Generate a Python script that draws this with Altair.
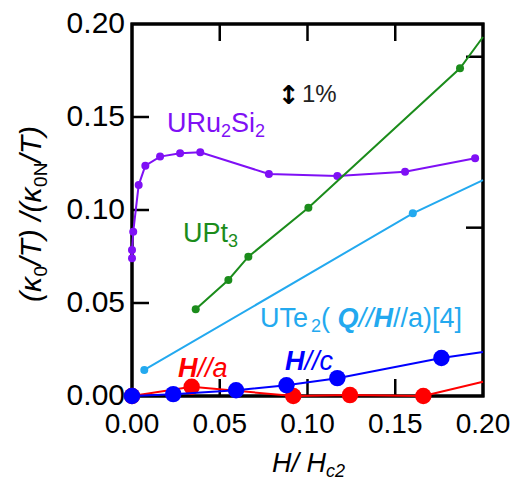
import altair as alt
import pandas as pd

FONT = "Liberation Sans"

# --- series values (H/Hc2, normalised residual kappa0/T) ---
uru_x = [0.0, 0.0, 0.0007, 0.0038, 0.0076, 0.016, 0.0274, 0.0389, 0.078, 0.117, 0.1556, 0.1955]
uru_y = [0.0740, 0.0785, 0.0883, 0.1134, 0.1238, 0.1287, 0.1305, 0.1310, 0.1194, 0.1183, 0.1206, 0.1278]

upt_x = [0.0363, 0.0549, 0.0663, 0.1005, 0.1869]
upt_y = [0.0466, 0.0624, 0.0749, 0.1012, 0.1762]
upt_end = (0.20, 0.193)

ute_ref_x = [0.007, 0.160]
ute_ref_y = [0.0140, 0.0982]
ute_ref_end = (0.20, 0.1161)

ha_x = [0.0, 0.034, 0.0919, 0.1242, 0.1660]
ha_y = [0.0, 0.0050, 0.0, 0.0005, 0.0]
ha_end = (0.20, 0.0077)

hc_x = [0.0, 0.0235, 0.0593, 0.0880, 0.1170, 0.1763]
hc_y = [0.0, 0.0010, 0.0031, 0.0058, 0.0096, 0.0204]
hc_end = (0.20, 0.0236)

x_ticks = [0.0, 0.05, 0.10, 0.15, 0.20]
y_ticks = [0.0, 0.05, 0.10, 0.15, 0.20]
inner_x_ticks = [0.05, 0.10, 0.15]
inner_y_ticks = [0.05, 0.10, 0.15]
right_ticks = [0.0905, 0.1824]
X_RANGE = [0.0, 0.2]
Y_RANGE = [0.0, 0.2]

W, H = 351, 372
TICK = 17


def frame(xs, ys, end=None):
    rows = [{"x": a, "y": b, "i": k, "marker": True} for k, (a, b) in enumerate(zip(xs, ys))]
    if end is not None:
        rows.append({"x": end[0], "y": end[1], "i": len(rows), "marker": False})
    return pd.DataFrame(rows)


xscale = alt.Scale(domain=X_RANGE, nice=False, zero=False)
yscale = alt.Scale(domain=Y_RANGE, nice=False, zero=False)


def X(field):
    return alt.X(f"{field}:Q", scale=xscale, axis=None)


def Y(field):
    return alt.Y(f"{field}:Q", scale=yscale, axis=None)


def series(df, color, size):
    line = alt.Chart(df).mark_line(color=color, strokeWidth=2).encode(
        x=X("x"), y=Y("y"), order="i:O")
    pts = alt.Chart(df).transform_filter("datum.marker").mark_circle(
        color=color, size=size, opacity=1).encode(x=X("x"), y=Y("y"))
    return [line, pts]


anchor = pd.DataFrame({"k": [0]})
x0, x1 = X_RANGE
y0, y1 = Y_RANGE

# plot box, positioned through the scales at the ends of both ranges
box = alt.Chart(anchor).mark_rect(fillOpacity=0, stroke="black", strokeWidth=3).encode(
    x=alt.X(datum=x0, scale=xscale, axis=None),
    x2=alt.X2(datum=x1),
    y=alt.Y(datum=y0, scale=yscale, axis=None),
    y2=alt.Y2(datum=y1),
)

# inward ticks; tick length converted to data units of the other axis
tdx = (x1 - x0) * TICK / W
tdy = (y1 - y0) * TICK / H


def tick(xa, xb, ya, yb):
    return alt.Chart(anchor).mark_rule(color="black", strokeWidth=2.5).encode(
        x=alt.X(datum=xa, scale=xscale, axis=None),
        x2=alt.X2(datum=xb),
        y=alt.Y(datum=ya, scale=yscale, axis=None),
        y2=alt.Y2(datum=yb),
    )


ticks = []
for t in inner_x_ticks:
    ticks.append(tick(t, t, y0, y0 + tdy))
    ticks.append(tick(t, t, y1, y1 - tdy))
for t in inner_y_ticks:
    ticks.append(tick(x0, x0 + tdx, t, t))
for t in right_ticks:
    ticks.append(tick(x1, x1 - tdx, t, t))

# tick labels
xl = pd.DataFrame({"x": x_ticks, "lab": [f"{v:.2f}" for v in x_ticks]})
yl = pd.DataFrame({"y": y_ticks, "lab": [f"{v:.2f}" for v in y_ticks]})
xlabels = alt.Chart(xl).mark_text(font=FONT, fontSize=28, color="black", align="center",
                                  baseline="top", dy=15).encode(
    x=X("x"), y=alt.value(H), text="lab:N")
ylabels = alt.Chart(yl).mark_text(font=FONT, fontSize=30, color="black", align="right",
                                  baseline="middle", dx=-7).encode(
    y=Y("y"), x=alt.value(0), text="lab:N")

# advance widths (1/1000 em) of Liberation Sans
ADV = {"(": 333, ")": 333, "/": 278, " ": 278, "T": 611, "κ": 520, "0": 556, "N": 722,
       "H": 722, "Q": 778, "a": 556, "c": 500, "U": 722, "e": 556, "2": 556, "[": 278,
       "]": 278, "4": 556, "P": 667, "t": 278, "3": 556, "R": 722, "u": 556, "S": 667,
       "i": 222, "1": 556, "%": 889, "↕": 600}


def rich(pieces, px, py, color, angle=0, font=FONT):
    """Lay out a run of differently styled text pieces starting at (px, py)."""
    out = []
    off = 0.0
    for text, size, style, weight, shift in pieces:
        out.append(
            alt.Chart(anchor).mark_text(
                text=text, align="left", baseline="alphabetic", dx=off, dy=shift,
                fontSize=size, font=font, fontStyle=style, fontWeight=weight,
                color=color, angle=angle,
            ).encode(x=alt.value(px), y=alt.value(py))
        )
        off += sum(ADV.get(ch, 556) for ch in text) * size / 1000.0
    return out


PURPLE, GREEN, LBLUE, BLUE, RED = "#7f10f5", "#1b8c1b", "#23a9ef", "#0000ff", "#ff0000"

layers = [xlabels, ylabels, box] + ticks
layers += series(frame(uru_x, uru_y), PURPLE, 64)
layers += series(frame(upt_x, upt_y, upt_end), GREEN, 64)
layers += series(frame(ute_ref_x, ute_ref_y, ute_ref_end), LBLUE, 64)
layers += series(frame(ha_x, ha_y, ha_end), RED, 270)
layers += series(frame(hc_x, hc_y, hc_end), BLUE, 270)

# curve labels
layers += rich([("URu", 27, "normal", "normal", 0), ("2", 18, "normal", "normal", 5),
                ("Si", 27, "normal", "normal", 0), ("2", 18, "normal", "normal", 5)],
               35, 108, PURPLE)
layers += rich([("UPt", 27, "normal", "normal", 0), ("3", 18, "normal", "normal", 5)],
               51, 218, GREEN)
layers += rich([("UTe", 27, "normal", "normal", 0), ("2", 18, "normal", "normal", 5),
                (" (", 27, "normal", "normal", 0), ("Q", 27, "italic", "bold", 0),
                ("//", 27, "italic", "normal", 0), ("H", 27, "italic", "bold", 0),
                ("//a)[4]", 27, "normal", "normal", 0)],
               128, 303, LBLUE)
layers += rich([("H", 27, "italic", "bold", 0), ("//a", 27, "italic", "normal", 0)],
               46, 353, RED)
layers += rich([("H", 27, "italic", "bold", 0), ("//c", 27, "italic", "normal", 0)],
               153, 346, BLUE)
layers += rich([("↕", 26, "normal", "bold", 0)], 146, 80, "black", font="DejaVu Sans")
layers += rich([("1%", 24, "normal", "normal", 0)], 170, 78, "#222222")

# axis titles
layers += rich([("H", 27, "italic", "normal", 0), ("/ ", 27, "italic", "normal", 0),
                ("H", 27, "italic", "normal", 0), ("c2", 18, "italic", "normal", 5)],
               140, 448, "black")
layers += rich([("(κ", 30, "italic", "normal", 0), ("0", 19, "normal", "normal", 6),
                ("/T) /(κ", 30, "italic", "normal", 0), ("0N", 19, "normal", "normal", 6),
                ("/T)", 30, "italic", "normal", 0)],
               -91, 278, "black", angle=270)

chart = (
    alt.layer(*layers)
    .properties(width=W, height=H, autosize=alt.AutoSizeParams(type="none"),
                padding={"left": 132, "top": 24, "right": 40, "bottom": 85})
    .configure(background="white",
               view=alt.ViewConfig(stroke="black", strokeWidth=3))
)

chart.save("out.html", embed_options={"renderer": "svg", "actions": False})
